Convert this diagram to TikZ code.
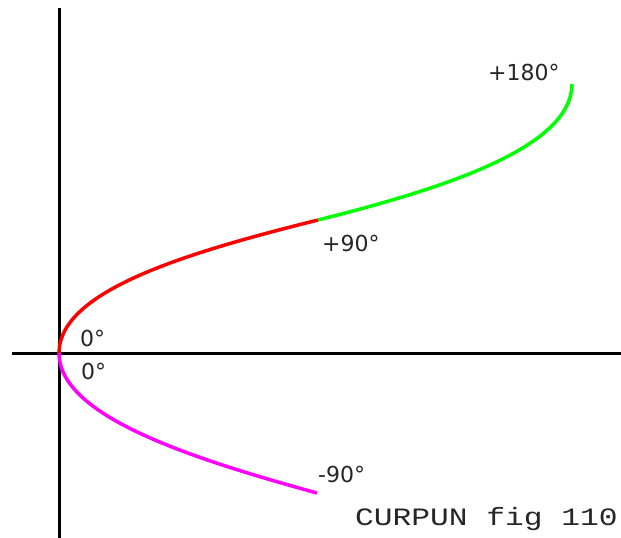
\documentclass[tikz,border=0pt]{standalone}
\usepackage{fontspec}
\newfontfamily\labfont{DejaVu Sans}
\newfontfamily\capfont{Liberation Mono}
\definecolor{cred}{RGB}{255,0,0}
\definecolor{cgreen}{RGB}{0,255,0}
\definecolor{cmag}{RGB}{255,0,255}
\begin{document}
\begin{tikzpicture}[x=1pt,y=-1pt,
  axis/.style={line width=3pt,black},
  curve/.style={line width=3.5pt},
  deg/.style={anchor=base west,inner sep=0pt,font=\labfont\fontsize{22}{22}\selectfont,text=black!85}]
\useasboundingbox (0,0) rectangle (621,538);
\fill[white] (0,0) rectangle (621,538);
% axes
\coordinate (ytop) at (59,8);
\coordinate (ybot) at (59,538);
\coordinate (xl) at (12,353);
\coordinate (xr) at (621,353);
\draw[axis] (ytop) -- (ybot);
\draw[axis] (xl) -- (xr);
% curve points
\coordinate (O) at (59,353);
\coordinate (P90) at (318,220);
\coordinate (P180) at (572,84);
\coordinate (Pm90) at (317,493);
\draw[curve,cred] (O) .. controls (59,290) and (190,252) .. (P90);
\draw[curve,cgreen] (P90) .. controls (446,188) and (572,147) .. (P180);
\draw[curve,cmag] (O) .. controls (59,416) and (190,458) .. (Pm90);
% labels
\node[deg] (l180) at (488,80) {+180°};
\node[deg] (l90) at (322,251) {+90°};
\node[deg] (l0a) at (80,346) {0°};
\node[deg] (l0b) at (81,379) {0°};
\node[deg] (lm90) at (318,482) {-90°};
\node[anchor=base west,inner sep=0pt,text=black!85] (cap) at (355,525)
  {\scalebox{1.25}[1]{\capfont\fontsize{25}{25}\selectfont CURPUN fig 110}};
\end{tikzpicture}
\end{document}
